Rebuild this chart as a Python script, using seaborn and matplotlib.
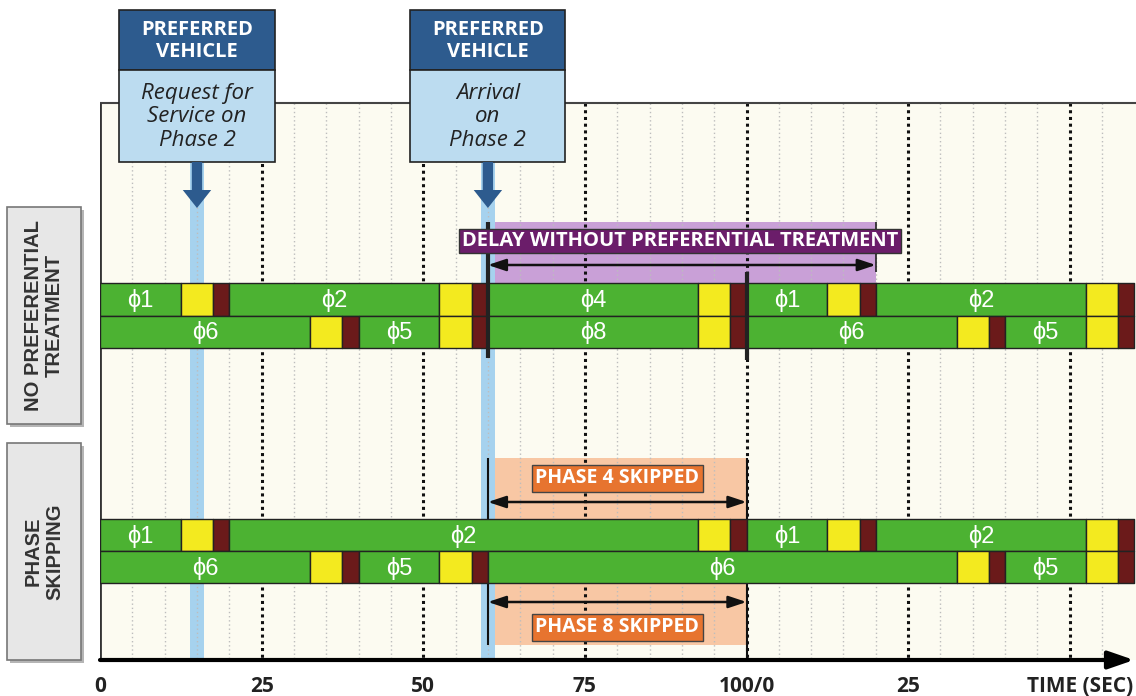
import matplotlib
matplotlib.use('Agg')
import matplotlib.pyplot as plt
import seaborn as sns
from matplotlib.patches import Rectangle

sns.set_theme(style='white')
plt.rcParams['font.family'] = ['Open Sans', 'DejaVu Sans']

# signal timing (sec): green per phase, then yellow and all-red
yellow = 5.0
red = 2.5

npt_ring1 = ['1', '2', '4', '1', '2']
npt_ring1_green = [12.5, 32.5, 32.5, 12.5, 32.5]
npt_ring2 = ['6', '5', '8', '6', '5']
npt_ring2_green = [32.5, 12.5, 32.5, 32.5, 12.5]

ps_ring1 = ['1', '2', '1', '2']
ps_ring1_green = [12.5, 72.5, 12.5, 32.5]
ps_ring2 = ['6', '5', '6', '5']
ps_ring2_green = [32.5, 12.5, 72.5, 12.5]

tick_pos = [0, 25, 50, 75, 100, 125]
tick_labels = ['0', '25', '50', '75', '100/0', '25']

request_time = 15
arrival_time = 60
cycle_end = 100
delay_end = 120

GREEN = '#4cb232'
YELLOW = '#f3ea1f'
RED = '#6b1a1a'
CREAM = '#fcfbf1'
DARKBLUE = '#2d5b8e'
LIGHTBLUE = '#bcdcf0'
BAND = '#a6d2ee'

# layout: x in seconds, y in pixels from top
px_per_s = 6.465
xmax = 1036 / px_per_s
bar_h = 32.5


def sx(px):
    return (px - 100) / px_per_s


fig = plt.figure(figsize=(11.36, 6.96), dpi=100)
ax = fig.add_axes([100 / 1136, 0, 1036 / 1136, 1])
ax.set_xlim(0, xmax)
ax.set_ylim(696, 0)
ax.axis('off')

# plot background
ax.add_patch(Rectangle((0, 103), xmax, 557, fc=CREAM, ec='none', zorder=0))

# shaded annotation regions
ax.add_patch(Rectangle((arrival_time, 222), delay_end - arrival_time, 61,
                       fc='#c9a0d7', ec='none', zorder=1))
ax.add_patch(Rectangle((arrival_time, 458), cycle_end - arrival_time, 187,
                       fc='#f8c7a4', ec='none', zorder=1))

# blue event bands
for t in (request_time, arrival_time):
    ax.add_patch(Rectangle((t - 1.1, 162), 2.2, 498, fc=BAND, ec='none', zorder=1.5))

# grid
for s in range(5, 160, 5):
    if s % 25:
        ax.vlines(s, 103, 660, color='#bdbdbd', lw=1.0, ls=(0, (1, 2)), zorder=2)
    else:
        ax.vlines(s, 103, 660, color='#111111', lw=2.2, ls=(0, (1, 1.2)), zorder=2)

# frame
ax.hlines(103, 0, xmax, color='#444444', lw=1.5, zorder=3)
ax.vlines(0, 103, 660, color='#333333', lw=2, zorder=3)
ax.annotate('', xy=(sx(1134), 660), xytext=(0, 660),
            arrowprops=dict(arrowstyle='-|>,head_length=1.3,head_width=0.45',
                            lw=3, color='black', shrinkA=0, shrinkB=0),
            annotation_clip=False, zorder=6)

# phase skipping guide lines sit behind the bars
ax.vlines(arrival_time, 458, 645, color='#111111', lw=1.5, zorder=3)
ax.vlines(cycle_end, 458, 660, color='#111111', lw=1.5, zorder=3)


def draw_ring(phases, greens, yc):
    t = 0.0
    for ph, g in zip(phases, greens):
        ax.broken_barh([(t, g)], (yc - bar_h / 2, bar_h), facecolor=GREEN,
                       edgecolor='#222222', lw=1, zorder=4)
        ax.text(t + g / 2, yc + 1, 'ϕ' + ph, ha='center', va='center', color='white',
                fontsize=17, family=['Liberation Sans', 'DejaVu Sans'], zorder=5)
        t += g
        ax.broken_barh([(t, yellow)], (yc - bar_h / 2, bar_h), facecolor=YELLOW,
                       edgecolor='#222222', lw=1, zorder=4)
        t += yellow
        ax.broken_barh([(t, red)], (yc - bar_h / 2, bar_h), facecolor=RED,
                       edgecolor='#222222', lw=1, zorder=4)
        t += red


draw_ring(npt_ring1, npt_ring1_green, 299.5)
draw_ring(npt_ring2, npt_ring2_green, 332)
draw_ring(ps_ring1, ps_ring1_green, 535)
draw_ring(ps_ring2, ps_ring2_green, 567)

# delay annotation
ax.vlines(arrival_time, 222, 358, color='#222222', lw=3, zorder=6)
ax.vlines(cycle_end, 272, 360, color='#222222', lw=3, zorder=6)
ax.vlines(delay_end, 222, 272, color='#222222', lw=1.2, zorder=6)
ax.annotate('', xy=(delay_end, 265), xytext=(arrival_time, 265),
            arrowprops=dict(arrowstyle='<|-|>,head_length=0.9,head_width=0.3',
                            lw=1.8, color='#111111', shrinkA=0, shrinkB=0), zorder=6)
ax.text(sx(680), 241, 'DELAY WITHOUT PREFERENTIAL TREATMENT', ha='center', va='center',
        color='white', fontsize=14.5, fontweight='bold', zorder=7,
        bbox=dict(boxstyle='square,pad=0.12', fc='#6b1d6a', ec='#333333', lw=1))

# phase skipping annotation
for y in (502, 602):
    ax.annotate('', xy=(cycle_end, y), xytext=(arrival_time, y),
                arrowprops=dict(arrowstyle='<|-|>,head_length=0.9,head_width=0.3',
                                lw=1.8, color='#111111', shrinkA=0, shrinkB=0), zorder=6)
for y, lab in ((478, 'PHASE 4 SKIPPED'), (627, 'PHASE 8 SKIPPED')):
    ax.text(80, y, lab, ha='center', va='center', color='white', fontsize=14,
            fontweight='bold', zorder=7,
            bbox=dict(boxstyle='square,pad=0.18', fc='#e7742f', ec='#444444', lw=1))

# preferred vehicle callouts
callouts = ['Request for\nService on\nPhase 2', 'Arrival\non\nPhase 2']
for t, txt in zip((request_time, arrival_time), callouts):
    ax.add_patch(Rectangle((t - 12, 10), 24, 60, fc=DARKBLUE, ec='#222222', lw=1.2,
                           clip_on=False, zorder=7))
    ax.add_patch(Rectangle((t - 12, 70), 24, 92, fc=LIGHTBLUE, ec='#222222', lw=1.2,
                           clip_on=False, zorder=7))
    ax.text(t, 41, 'PREFERRED\nVEHICLE', ha='center', va='center', color='white',
            fontsize=14.5, fontweight='bold', linespacing=1.1, zorder=8)
    ax.text(t, 117, txt, ha='center', va='center', color='#222222', fontsize=16,
            style='italic', linespacing=1.15, zorder=8)
    ax.arrow(t, 162, 0, 46, width=1.6, head_width=4.4, head_length=18,
             length_includes_head=True, fc=DARKBLUE, ec='none', clip_on=False, zorder=8)

# left row labels
for y0, y1, lab in ((207, 424, 'NO PREFERENTIAL\nTREATMENT'), (443, 660, 'PHASE\nSKIPPING')):
    ax.add_patch(Rectangle((sx(10), y0 + 3), sx(81) - sx(7), y1 - y0, fc='#b5b5b5',
                           ec='none', clip_on=False, zorder=6))
    ax.add_patch(Rectangle((sx(7), y0), sx(81) - sx(7), y1 - y0, fc='#e7e7e7',
                           ec='#777777', lw=1.2, clip_on=False, zorder=7))
    ax.text(sx(44), (y0 + y1) / 2, lab, ha='center', va='center', rotation=90,
            color='#333333', fontsize=14.5, fontweight='bold', linespacing=1.15,
            family=['Liberation Sans', 'DejaVu Sans'], zorder=8)

# tick labels
for p, lab in zip(tick_pos, tick_labels):
    ax.text(p, 686, lab, ha='center', va='center', fontsize=15, fontweight='bold',
            color='#222222', clip_on=False)
ax.text(sx(1133), 686, 'TIME (SEC)', ha='right', va='center', fontsize=15,
        fontweight='bold', color='#222222')

fig.savefig('out.png', dpi=100)
